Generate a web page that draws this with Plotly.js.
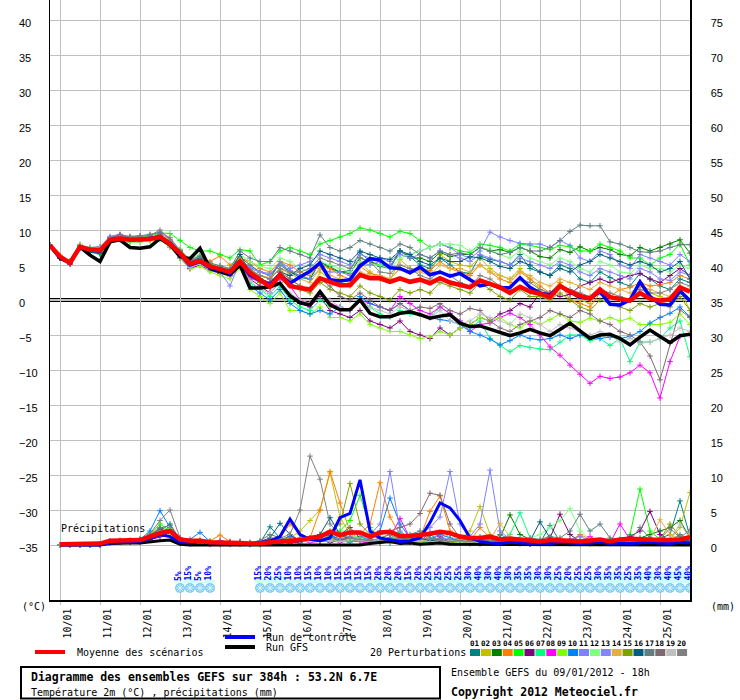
<!DOCTYPE html>
<html><head><meta charset="utf-8">
<script src="https://cdn.plot.ly/plotly-3.0.1.min.js"></script>
<style>html,body{margin:0;padding:0;background:#fff}#chart{width:740px;height:700px}</style>
</head><body><div id="chart"></div>
<script>
// ---------- time steps (6h, from 09/01/2012 18h, 384h) ----------
const startUTC = Date.UTC(2012, 0, 9, 18);
const stepMs = 6 * 3600 * 1000;
const nSteps = 65;
const times = Array.from({length: nSteps}, (_, i) => startUTC + i * stepMs);
const precipTimes = times.slice(1);
const dayTicks = times.filter(t => new Date(t).getUTCHours() === 0);

// ---------- tick labels ----------
const tempTicks = [-35,-30,-25,-20,-15,-10,-5,0,5,10,15,20,25,30,35,40];
const mmTicks = [0,5,10,15,20,25,30,35,40,45,50,55,60,65,70,75];

// ---------- members ----------
const memberNames = ["01","02","03","04","05","06","07","08","09","10","11","12","13","14","15","16","17","18","19","20"];
const memberColors = ["#008080","#c0c000","#008000","#ff8000","#00ff00","#800080","#00ff80","#ff00ff","#80ff00","#0080ff",
                      "#8080ff","#80ff80","#8484ff","#e0b040","#80a000","#005f80","#5f7f80","#806870","#c0c0c0","#808080"];

// ---------- temperature 2m (°C) ----------
const tempMean = [7.8,6.2,5.3,7.6,7.2,7.1,8.6,8.8,8.6,8.6,8.7,9.0,8.0, 6.7,5.2,5.6,4.8,4.4,4.0,5.5,3.9,
  2.9,1.9,3.6,2.0, 1.7,1.5,3.1,2.6, 2.1,2.1,3.6,3.1, 3.1,2.6,3.1,2.6, 2.9,2.4,3.1,2.5, 2.1,1.8,2.8,2.3,
  1.8,1.0,1.9,1.2, 0.9,0.4,2.0,1.2, 0.6,0.2,1.5,0.4, 0.1,-0.1,1.0,0.2, -0.1,0.1,1.8,1.2];
const tempControl = [7.8,6.1,5.3,7.6,7.1,7.0,8.6,8.8,8.6,8.6,8.8,9.0,8.1, 6.6,5.0,5.5,4.6,4.3,3.8,5.5,3.6,
  2.8,2.2,3.6,2.4, 3.3,4.1,5.3,2.9, 2.7,2.9,4.9,5.9, 5.7,4.6,4.5,3.9, 4.7,3.6,4.0,3.4, 3.8,2.9,2.0,2.3,
  1.7,1.8,3.2,1.8, 1.0,0.7,2.0,1.2, 0.4,0.2,1.2,-0.6, -0.7,0.0,2.6,0.5, -0.6,-0.7,1.3,-0.1];
const tempGFS = [7.8,6.0,5.3,7.6,6.4,5.5,8.3,8.6,7.5,7.4,7.6,8.8,7.9, 6.2,5.9,7.4,4.5,4.0,3.6,5.0,1.7,
  1.7,1.9,2.4,0.6, -0.4,-0.7,1.2,-0.7, -1.4,-1.4,0.0,-1.9, -2.4,-2.4,-1.9,-1.7, -2.1,-2.6,-2.3,-2.1,
  -3.3,-3.8,-3.7,-4.2, -4.7,-5.1,-4.7,-4.2, -4.7,-5.1,-4.2,-3.3, -4.4,-5.5,-5.0,-4.9, -5.5,-6.4,-5.3,-4.3, -5.2,-6.1,-5.1,-4.9];

const tempP01 = [7.8,6.0,5.4,7.9,7.0,6.8,8.5,9.0,8.5,8.5,8.8,9.1,7.8, 6.5,5.0,5.4,4.5,4.2,3.8,5.8,4.2,
  3.5,3.0,5.5,4.0, 3.2,3.0,5.5,4.8, 4.0,4.2,6.8,5.5, 4.8,4.5,7.0,6.2, 5.0,4.5,6.0,5.0, 4.0,3.8,6.3,5.8,
  5.5,5.0,6.5,4.5, 4.0,3.5,5.0,4.5, 3.0,2.5,4.0,3.2, 2.5,2.0,3.8,3.0, 2.0,1.5,3.0,2.5];
const tempP02 = [7.8,6.3,5.2,7.5,7.4,7.4,8.9,9.1,8.7,8.4,8.6,8.8,8.3, 6.8,5.3,5.8,5.0,4.6,4.2,6.0,4.5,
  3.5,3.0,4.5,3.0, 2.0,1.5,4.0,3.0, 2.5,2.0,5.5,4.0, 3.0,2.8,5.8,4.5, 4.2,4.0,6.5,5.5, 5.0,4.8,6.0,4.5,
  3.5,3.0,4.5,3.0, 1.5,1.0,2.5,1.0, 0.0,-0.5,1.5,0.5, 0.5,0.0,2.0,1.0, 0.5,0.0,1.5,-1.5];
const tempP03 = [7.8,6.1,5.6,7.7,7.3,7.2,8.7,9.2,8.9,8.8,8.9,9.3,8.4, 7.0,5.6,6.0,5.2,4.8,4.3,6.2,5.0,
  4.0,3.5,5.0,4.0, 3.5,3.0,5.5,4.5, 4.0,3.8,6.0,5.5, 5.0,4.8,7.0,6.0, 6.0,5.5,6.8,6.2, 6.5,6.5,7.5,7.0,
  7.2,6.8,7.5,7.0, 6.2,6.0,7.2,6.8, 7.6,7.0,7.5,7.2, 6.5,6.3,7.5,7.0, 7.5,8.0,8.6,6.7];
const tempP04 = [7.8,6.4,5.3,7.6,7.1,7.0,8.4,8.7,8.5,8.7,8.5,8.7,7.5, 7.2,5.5,6.2,5.5,6.3,5.0,6.0,5.5,
  4.5,4.0,5.5,5.0, 4.0,3.5,5.0,4.5, 3.5,3.0,4.8,3.8, 3.5,3.0,4.5,4.0, 4.5,4.2,5.5,4.5, 4.0,3.5,5.0,4.0,
  3.0,2.5,4.0,3.0, 2.0,1.0,2.5,0.0, -0.5,-1.0,1.0,0.5, 1.5,1.8,2.5,2.0, 2.2,2.5,3.5,3.0];
const tempP05 = [7.8,6.2,5.5,7.8,7.5,7.6,8.8,9.0,8.8,9.0,9.1,9.6,9.5, 8.5,7.5,7.0,7.0,6.5,6.0,7.2,7.0,
  5.0,5.5,7.0,7.5, 7.0,6.5,8.0,8.5, 9.0,9.5,10.3,10.0, 9.5,9.0,9.8,9.5, 8.5,7.5,8.0,7.5, 7.0,6.8,8.0,7.8,
  7.5,7.0,8.0,7.8, 7.5,7.2,7.8,7.6, 7.0,7.0,8.0,7.5, 7.0,6.0,6.0,5.0, 6.0,6.5,8.0,5.0];
const tempP06 = [7.8,6.0,5.1,7.4,7.0,6.9,8.5,8.8,8.3,8.5,8.7,9.0,8.1, 6.0,4.5,5.0,4.2,3.8,3.5,5.0,3.0,
  2.0,1.0,2.5,0.5, -0.5,-1.0,0.5,-1.5, -2.0,-2.5,-1.5,-3.0, -3.5,-4.0,-3.0,-4.5, -5.0,-5.5,-4.0,-5.0,
  -4.0,-3.5,-2.5,-3.0, -2.0,-1.5,-0.5,-1.0, 1.0,1.0,0.5,0.8, 2.0,2.5,3.0,2.5, 3.0,3.5,3.8,3.0, 2.5,3.5,4.5,3.5];
const tempP07 = [7.8,6.2,5.4,7.7,7.3,6.6,8.3,8.6,8.6,8.9,8.8,9.1,8.0, 6.3,4.8,5.5,4.5,4.0,3.5,5.2,2.5,
  1.5,0.5,2.0,0.0, -1.0,-1.5,0.0,-1.0, -1.0,-1.5,0.0,-1.0, -2.0,-2.5,-1.5,-2.0, -2.0,-2.5,-1.0,-2.0,
  -3.0,-4.0,-3.0,-5.5, -6.5,-7.4,-6.5,-6.8, -7.0,-7.1,-6.0,-5.0, -5.0,-5.8,-5.5,-6.5, -5.5,-8.8,-6.0,-6.0, -5.5,-4.0,-3.0,-8.1];
const tempP08 = [7.8,6.1,5.2,7.5,7.2,7.3,8.9,9.3,8.8,8.6,9.0,9.2,8.4, 6.1,4.6,5.2,4.3,3.9,3.4,5.0,3.2,
  2.5,1.8,3.0,2.0, 0.0,-0.5,1.0,-0.5, -1.0,-1.5,0.0,-0.5, -1.0,-1.5,0.5,-0.5, -1.5,-2.0,-1.0,-1.9,
  -3.0,-4.5,-3.5,-3.3, -2.5,-1.9,-2.5,-3.5, -5.0,-6.7,-7.9,-9.3, -10.6,-11.9,-10.9,-11.2, -11.0,-10.4,-9.3,-10.4, -14.0,-8.8,-5.2,-5.0];
const tempP09 = [7.8,6.3,5.4,7.9,7.1,6.6,8.2,8.7,8.2,8.3,8.4,8.6,7.6, 6.0,4.4,4.8,4.0,3.5,3.0,4.5,1.5,
  0.5,-0.5,1.0,-1.5, -1.5,-2.0,-1.0,-2.5, -2.5,-3.0,-2.0,-3.5, -4.0,-4.5,-4.5,-5.0, -5.5,-5.3,-4.5,-5.0,
  -4.0,-3.5,-2.5,-3.0, -2.5,-3.5,-4.0,-3.0, -3.5,-2.8,-2.0,-3.0, -3.2,-2.6,-3.0,-2.5, -3.0,-2.6,-3.5,-3.5, -3.5,-3.2,-2.0,-3.5];
const tempP10 = [7.8,6.0,5.3,7.6,6.9,6.8,8.6,8.9,8.7,8.6,8.7,9.1,8.2, 6.2,4.8,5.4,4.6,4.2,3.7,5.0,2.0,
  1.0,0.0,1.5,-0.5, -1.5,-2.0,-1.5,-2.0, -1.0,-1.5,0.5,-0.5, -1.0,-1.5,-0.5,-1.5, -2.0,-2.5,-2.8,-3.0,
  -3.5,-4.5,-5.0,-5.6, -6.4,-5.8,-5.0,-5.5, -5.7,-5.5,-5.0,-5.5, -5.0,-5.2,-5.5,-5.3, -5.5,-5.2,-4.5,-3.3, -2.5,-1.9,-1.0,-2.4];
const tempP11 = [7.8,6.2,5.5,7.7,7.5,7.6,9.1,9.4,9.0,9.1,9.4,9.6,8.6, 7.0,5.5,6.2,5.0,4.0,2.0,5.5,4.5,
  4.0,3.5,5.5,4.5, 5.0,5.5,6.5,6.0, 5.5,5.0,6.5,6.0, 6.0,5.5,6.8,6.5, 7.0,7.5,8.0,7.5, 6.5,6.0,7.0,9.7,
  9.0,8.5,8.1,8.0, 8.0,7.5,8.5,7.8, 6.0,5.5,7.0,6.5, 5.0,4.5,6.5,6.0, 5.5,5.0,6.5,5.5];
const tempP12 = [7.8,6.4,5.6,8.0,7.4,7.0,8.4,8.6,8.3,8.2,8.5,8.9,8.0, 7.3,5.8,6.5,5.2,4.8,4.4,6.5,5.5,
  4.8,4.5,6.0,5.5, 4.5,4.0,5.5,5.0, 4.5,4.0,5.5,5.0, 5.0,4.5,6.0,6.5, 7.0,7.5,8.0,8.0, 7.8,7.0,7.5,7.2,
  6.5,6.0,7.0,6.0, 5.5,5.0,6.0,5.5, 4.5,4.0,5.5,5.0, 4.0,3.8,5.0,4.5, 4.5,4.0,5.0,4.5];
const tempP13 = [7.8,6.1,5.3,7.6,7.2,7.4,8.8,9.0,8.6,8.7,8.8,9.0,7.7, 6.6,5.2,5.6,4.8,4.4,3.8,5.5,4.8,
  4.0,3.8,5.0,4.2, 3.5,3.0,4.5,4.0, 4.0,3.5,5.0,5.0, 5.5,5.0,6.5,6.0, 6.5,6.0,7.0,6.5, 6.0,5.5,6.5,6.0,
  5.5,5.0,6.0,5.5, 5.0,4.5,5.5,5.0, 4.0,3.5,4.5,4.0, 3.5,3.0,4.5,4.0, 3.0,2.8,4.0,3.5];
const tempP14 = [7.8,6.2,5.2,7.5,7.3,7.2,8.6,8.9,8.8,8.6,8.5,9.3,8.5, 6.8,5.4,5.8,4.9,4.5,4.0,5.8,4.0,
  3.5,3.2,4.5,3.8, 3.0,2.5,4.5,3.5, 3.0,2.5,4.0,3.5, 3.5,3.0,4.5,4.0, 4.0,3.5,5.0,4.5, 4.5,4.0,5.0,4.0,
  3.5,3.0,4.0,3.5, 2.5,2.0,3.0,2.5, 2.0,1.5,2.5,2.0, 1.5,1.0,2.0,1.5, 1.0,0.5,2.0,1.5];
const tempP15 = [7.8,6.3,5.4,7.8,7.0,6.7,8.3,8.7,8.5,8.7,8.8,8.9,7.8, 6.4,5.0,5.3,4.4,4.0,3.6,5.2,3.5,
  2.5,2.0,3.5,2.5, 1.5,1.0,2.5,1.5, 1.0,0.5,2.0,1.0, 0.5,0.0,1.5,1.0, 1.5,1.0,2.5,2.0, 1.5,1.0,2.5,1.5,
  0.5,0.0,1.5,0.5, 0.5,0.0,1.0,0.0, -1.0,-1.5,0.0,-0.5, -1.0,-1.5,-0.5,-1.0, -0.5,-1.0,0.5,-1.5];
const tempP16 = [7.8,6.0,5.3,7.4,6.8,6.6,8.4,8.9,8.6,8.6,8.8,9.0,7.9, 6.9,5.5,5.9,5.0,4.6,4.2,6.5,4.0,
  3.0,2.5,4.0,3.5, 4.5,5.0,7.0,6.5, 6.0,5.5,7.0,6.5, 6.0,5.8,7.0,6.5, 5.5,5.0,6.0,5.5, 5.5,6.2,6.0,5.5,
  4.8,4.5,5.5,5.0, 4.0,3.5,4.5,4.0, 5.0,5.5,6.5,6.0, 5.5,5.0,5.5,5.0, 4.0,4.5,5.5,3.0];
const tempP17 = [7.8,6.2,5.5,7.7,7.3,7.1,8.7,9.2,9.1,9.2,9.3,9.7,8.9, 7.1,5.7,6.3,5.3,4.9,4.5,7.0,6.0,
  5.5,5.5,7.5,7.0, 6.5,6.0,9.3,7.5, 7.0,7.5,8.5,8.0, 7.5,7.0,8.0,7.5, 6.5,6.0,7.0,6.5, 6.7,6.5,7.5,7.0,
  6.5,6.8,7.5,7.0, 7.0,7.5,8.5,9.8, 10.7,10.6,10.6,8.3, 8.0,7.5,6.9,6.8, 7.0,7.5,7.9,7.9];
const tempP18 = [7.8,6.1,5.2,7.6,7.2,7.2,8.9,9.3,8.9,8.7,8.9,9.4,8.2, 6.5,5.0,5.6,4.6,4.1,3.7,5.4,3.8,
  3.0,2.5,4.0,3.0, 2.0,1.5,3.0,2.0, 0.5,0.0,1.0,0.0, -1.0,-1.5,-0.5,-1.5, -1.0,-1.2,-0.5,-1.5,
  -2.0,-1.2,-1.5,-3.0, -4.0,-4.5,-3.5,-3.0, -2.5,-1.5,-2.0,-2.5, -1.5,-2.0,-3.0,-3.5, -4.5,-5.0,-6.0,-8.0, -11.4,-6.2,-1.4,-2.5];
const tempP19 = [7.8,6.3,5.4,7.9,7.4,7.3,8.6,8.8,8.4,8.3,8.6,8.8,7.9, 6.2,4.7,5.1,4.3,3.9,3.4,4.8,2.8,
  1.5,1.0,2.5,1.0, 0.0,-0.5,1.0,0.0, -1.0,-1.5,0.0,-1.0, -1.5,-2.0,-1.0,-1.5, -2.0,-2.5,-1.5,-3.0,
  -3.5,-3.0,-2.0,-2.5, -3.0,-3.5,-2.0,-2.5, -3.5,-4.5,-3.5,-4.0, -4.5,-5.0,-4.5,-5.0, -6.0,-5.5,-6.2,-6.0, -5.5,-5.0,-4.0,-4.5];
const tempP20 = [7.8,6.2,5.3,7.6,7.2,7.0,8.7,9.2,9.0,9.1,9.2,10.0,8.6, 6.7,5.2,5.7,4.7,4.3,3.9,5.6,4.3,
  3.5,3.0,4.5,4.0, 4.0,4.5,6.0,5.5, 5.0,4.5,6.0,5.5, 4.0,3.8,5.0,4.5, 3.5,3.0,4.0,3.5, 2.5,2.0,3.5,3.0,
  2.0,1.5,3.0,2.5, 1.5,1.0,2.0,1.5, 1.0,0.5,1.5,1.0, 0.5,0.0,1.5,1.0, 1.0,1.5,2.5,2.0];

// ---------- precipitation (mm / 6h), from 10/01 00h ----------
const precipMean = [0.1,0.1,0.1,0.1,0.2,0.6,0.6,0.6, 0.7,1.2,1.7,2.0,0.8,0.6,0.6,0.4, 0.4,0.3,0.3,0.2,0.2,0.4,0.5,0.6,
  0.7,1.0,1.2,1.9,1.4,1.8,1.8,1.2, 1.8,1.9,1.3,1.3,1.4,1.6,1.9,1.7, 1.2,1.0,1.0,1.2,0.8,0.9,0.8,0.6,
  0.5,0.7,0.7,0.6,0.5,0.7,0.8,0.5, 0.8,0.9,0.8,0.7,0.7,0.7,0.8,1.1];
const precipControl = [0,0,0,0,0,0.3,0.4,0.5, 0.5,0.9,1.5,1.2,0.4,0.3,0.6,0.3, 0.3,0.2,0.3,0.1,0.3,0.6,1.2,3.7,
  1.5,0.8,0.6,1.0,3.9,4.5,9.3,2.0, 1.0,0.8,0.5,0.6,1.0,3.2,6.0,5.3, 3.5,1.0,0.5,0.3,0.2,0.4,0.3,0.2,
  0.3,0.2,0.4,0.3,0.2,0.3,0.4,0.2, 0.3,0.2,0.3,0.4,0.3,0.2,0.4,0.3];
const precipGFS = [0,0,0,0,0,0.2,0.3,0.3, 0.3,0.5,0.6,0.7,0.1,0,0,0, 0,0,0,0,0,0,0,0,
  0,0,0,0,0,0,0,0.2, 0.3,0.5,0.2,0.3,0.1,0.2,0.3,0.1, 0.1,0,0.1,0,0,0.1,0,0,
  0,0.1,0,0,0.1,0,0,0, 0,0,0,0.1,0,0,0,0];
const precipP01 = [0,0,0,0,0.1,0.5,0.4,0.6, 0.5,1.2,2.0,3.0,0.8,0.3,0.5,0.2, 0.4,0.2,0.5,0.1,0.3,2.6,1.0,0.5,
  0.3,0.8,0.5,1.5,0.6,0.4,1.2,0.5, 0.8,0.3,1.0,0.5,0.2,1.5,0.6,0.3, 0.5,0.2,0.8,1.2,0.4,0.3,0.6,0.2,
  0.3,2.8,0.5,0.2,0.6,0.3,0.4,0.8, 0.3,0.5,0.2,0.4,1.0,1.5,6.3,1.2];
const precipP02 = [0,0,0,0,0,0.4,0.6,0.5, 0.6,0.8,1.5,2.2,0.5,0.6,0.3,0.2, 0.2,0.3,0.1,0.2,0.2,0.5,0.8,1.0,
  2.0,3.5,5.0,10.3,4.0,1.5,0.8,0.6, 0.5,1.0,0.8,0.4,0.6,0.3,1.2,0.5, 0.8,2.0,5.5,1.5,0.5,0.3,0.2,0.4,
  0.2,0.3,0.5,0.4,0.2,0.6,0.3,0.2, 0.4,0.2,0.5,0.3,1.0,0.8,2.5,7.5];
const precipP03 = [0,0,0,0,0,0.3,0.5,0.4, 0.5,1.0,1.8,2.5,0.6,0.4,0.6,0.3, 0.3,0.4,0.2,0.3,0.1,0.4,0.6,0.8,
  0.5,1.0,0.8,0.5,1.5,2.5,1.0,0.6, 0.4,0.8,0.6,1.2,0.5,0.8,0.4,0.6, 0.3,0.5,0.8,0.4,1.0,4.3,1.5,0.8,
  0.5,0.3,0.4,0.6,0.3,0.2,0.5,0.4, 0.6,0.3,1.0,1.5,2.0,2.5,3.5,1.0];
const precipP04 = [0,0,0,0,0,0.5,0.4,0.6, 0.7,1.5,2.5,1.8,1.0,0.5,0.8,0.6, 1.4,0.5,0.3,0.2,0.4,0.6,1.0,3.0,
  1.5,1.0,5.0,10.5,6.0,2.0,1.5,3.0, 8.9,4.0,1.5,0.8,1.0,4.8,7.0,2.0, 1.0,0.6,2.5,1.0,0.5,0.8,0.4,0.3,
  0.2,0.5,0.3,0.6,1.5,0.8,0.4,0.3, 0.5,1.0,0.6,0.4,0.3,0.5,0.8,1.5];
const precipP05 = [0,0,0,0,0,0.4,0.7,0.6, 0.8,1.5,3.0,2.0,0.5,0.3,0.4,0.3, 0.2,0.3,0.4,0.2,0.3,0.5,0.6,0.4,
  0.8,1.0,1.2,0.6,2.0,3.5,7.1,2.5, 1.0,1.5,0.5,0.8,1.2,0.4,0.6,0.8, 0.5,0.3,0.6,0.4,0.2,0.3,0.5,0.4,
  0.3,0.2,0.4,0.3,0.6,0.2,0.4,0.5, 0.3,1.5,8.0,2.0,0.8,0.5,0.6,1.0];
const precipP06 = [0,0,0,0,0,0.3,0.4,0.5, 0.4,0.8,1.2,1.5,0.4,0.2,0.3,0.1, 0.2,0.1,0.2,0.1,0.2,0.3,0.4,0.3,
  0.5,0.6,0.8,0.4,0.6,1.0,0.8,0.5, 0.3,0.6,1.0,0.4,0.3,0.6,0.5,0.8, 0.3,0.5,0.2,0.4,0.3,0.6,0.2,0.1,
  0.3,1.0,4.4,1.5,0.5,0.3,0.2,0.4, 0.6,1.2,2.0,4.8,1.5,0.5,0.3,0.8];
const precipP07 = [0,0,0,0,0,0.4,0.5,0.6, 0.5,1.0,2.2,1.6,0.6,0.4,0.3,0.2, 0.3,0.2,0.2,0.1,0.3,0.5,0.4,0.8,
  1.0,0.5,0.8,1.2,0.5,1.8,0.8,0.4, 0.6,0.4,1.8,0.6,0.5,0.3,0.8,1.6, 0.5,0.3,0.2,0.4,0.8,1.5,4.6,1.0,
  0.4,0.2,0.3,0.5,0.2,0.4,0.3,0.2, 0.3,0.5,0.2,0.3,0.6,0.4,0.2,0.3];
const precipP08 = [0,0,0,0,0,0.3,0.5,0.4, 0.6,0.9,1.8,1.4,0.3,0.2,0.4,0.2, 0.1,0.2,0.3,0.2,0.1,0.2,0.3,0.4,
  0.6,0.4,0.5,0.8,0.4,0.6,0.5,0.3, 0.8,1.0,3.8,1.0,0.5,1.8,1.2,0.6, 0.4,0.6,1.0,0.5,0.3,0.6,0.4,0.8,
  0.5,0.3,0.8,0.4,0.3,1.2,0.5,0.3, 3.0,0.8,0.4,0.6,0.3,0.5,0.4,0.6];
const precipP09 = [0,0,0,0,0,0.4,0.6,0.5, 0.5,1.2,2.0,1.5,0.5,0.3,0.4,0.3, 0.3,0.2,0.3,0.2,0.2,0.4,0.5,0.6,
  0.8,1.0,0.6,0.5,1.2,0.8,0.5,0.6, 0.4,0.6,0.8,0.5,0.3,0.6,0.4,0.5, 0.3,0.2,0.5,0.3,0.4,0.2,0.6,0.3,
  0.2,0.4,0.3,0.5,0.2,0.3,0.4,0.2, 0.3,0.2,0.5,0.4,0.3,0.6,0.4,0.3];
const precipP10 = [0,0,0,0,0,0.5,0.6,0.7, 0.8,2.0,4.9,2.5,1.0,0.8,1.8,0.5, 0.6,0.4,0.5,0.2,0.3,0.6,0.8,1.2,
  0.8,0.6,1.0,1.5,0.8,0.6,1.0,0.8, 2.0,6.7,3.0,1.0,0.6,0.8,1.5,1.0, 0.6,0.5,0.4,0.8,0.3,0.5,0.6,0.4,
  0.3,0.5,0.4,0.6,0.3,0.4,0.5,0.3, 0.4,0.6,0.3,0.5,0.4,0.6,0.8,0.5];
const precipP11 = [0,0,0,0,0,0.4,0.5,0.5, 0.7,1.3,2.2,1.8,0.6,0.5,0.6,0.4, 0.3,0.5,0.4,0.2,0.3,0.4,0.5,0.6,
  0.5,0.8,1.0,0.6,0.8,1.2,0.8,1.5, 3.0,10.5,2.0,0.8,0.6,0.5,1.0,0.8, 0.6,1.2,3.0,10.7,2.0,0.8,0.5,0.6,
  0.4,0.5,0.3,0.8,1.2,0.6,0.4,0.5, 0.3,0.5,0.6,0.4,0.8,0.5,0.6,0.4];
const precipP12 = [0,0,0,0,0,0.3,0.5,0.6, 0.5,1.0,1.6,2.4,0.5,0.4,0.5,0.3, 0.2,0.3,0.4,0.2,0.3,0.5,0.4,0.6,
  0.5,0.7,0.6,0.8,0.5,0.6,1.0,0.6, 0.5,0.8,0.6,0.4,0.5,0.8,0.6,0.5, 0.4,0.6,0.3,0.5,0.4,0.6,0.8,1.0,
  1.5,2.5,3.5,5.2,2.0,0.8,0.5,0.4, 0.3,0.5,0.8,0.6,0.4,0.3,0.5,0.6];
const precipP13 = [0,0,0,0,0,0.4,0.6,0.5, 0.6,1.1,1.9,1.6,0.5,0.4,0.3,0.2, 0.3,0.2,0.3,0.2,0.4,0.6,0.5,0.8,
  1.0,0.8,0.6,1.0,0.8,2.0,1.5,0.8, 0.6,1.0,0.8,1.2,1.5,2.5,4.0,10.5, 3.0,1.0,0.6,0.8,0.5,0.4,0.6,0.3,
  0.5,0.4,0.6,0.8,0.5,0.4,0.3,0.5, 0.4,0.6,0.5,0.3,0.5,0.4,0.6,0.5];
const precipP14 = [0,0,0,0,0,0.5,0.5,0.6, 0.6,1.2,2.0,1.8,0.6,0.4,0.5,0.3, 0.4,0.3,0.2,0.3,0.2,0.4,0.6,0.5,
  0.8,0.6,0.8,1.0,0.6,0.8,0.5,0.8, 0.6,0.5,0.8,0.6,0.5,0.8,0.6,0.5, 0.8,0.6,0.5,0.8,3.1,1.2,0.6,0.4,
  0.3,0.5,0.4,0.3,0.6,0.5,0.3,0.4, 0.5,0.6,0.4,0.8,3.6,1.5,0.8,1.2];
const precipP15 = [0,0,0,0,0,0.4,0.5,0.5, 0.5,1.0,1.8,2.0,0.5,0.3,0.4,0.2, 0.3,0.2,0.3,0.2,0.3,0.4,0.5,0.6,
  0.8,1.0,1.5,2.0,3.0,8.8,3.0,1.5, 0.8,1.0,0.6,0.5,0.8,0.6,0.5,0.4, 0.5,0.3,0.6,0.4,0.3,0.5,0.4,0.3,
  0.4,0.3,0.5,0.6,0.3,0.4,0.5,0.3, 0.4,0.3,0.6,0.5,0.8,3.0,1.2,0.6];
const precipP16 = [0,0,0,0,0,0.5,0.6,0.6, 0.7,1.4,2.3,1.6,0.5,0.5,0.6,0.3, 0.4,0.3,0.4,0.2,0.5,1.0,3.1,1.5,
  0.6,0.8,1.5,3.9,1.5,0.8,0.6,0.5, 0.8,0.6,0.5,0.8,1.0,0.6,0.8,0.5, 0.6,0.4,0.5,0.6,0.8,0.5,0.4,0.6,
  3.3,1.0,0.5,0.4,0.6,0.3,0.5,0.4, 0.6,0.5,0.8,0.6,0.4,0.5,0.8,0.6];
const precipP17 = [0,0,0,0,0,0.4,0.6,0.5, 0.6,1.3,2.4,2.8,0.7,0.5,0.6,0.4, 0.5,0.4,0.3,0.4,0.6,1.5,1.0,0.6,
  0.8,1.0,0.8,1.2,0.6,0.8,0.5,0.6, 0.5,0.8,0.6,1.5,2.0,1.0,0.8,0.6, 1.0,0.8,1.2,0.6,1.5,0.8,0.6,1.0,
  0.8,1.2,1.0,2.0,4.4,2.0,3.0,1.0, 0.8,0.6,2.5,1.0,0.8,0.6,1.5,0.8];
const precipP18 = [0,0,0,0,0,0.3,0.5,0.4, 0.5,1.0,1.6,1.8,0.4,0.3,0.4,0.2, 0.3,0.2,0.3,0.2,0.2,0.4,0.3,0.5,
  0.6,0.8,0.5,0.6,0.8,1.0,0.6,0.8, 1.5,2.0,2.5,3.0,4.5,7.4,7.1,3.0, 1.0,0.6,0.5,0.8,0.4,0.6,0.5,0.3,
  0.4,0.6,0.3,0.5,0.4,0.3,0.5,0.6, 0.4,0.3,0.5,0.8,0.6,0.4,0.5,0.3];
const precipP19 = [0,0,0,0,0,0.4,0.4,0.5, 0.5,1.0,1.7,1.5,0.5,0.4,0.3,0.2, 0.3,0.2,0.2,0.3,0.2,0.3,0.4,0.5,
  0.6,0.5,0.8,0.6,0.5,0.8,0.6,0.5, 0.8,0.6,0.5,0.8,0.6,0.5,0.4,0.6, 0.5,0.4,0.6,0.5,0.3,0.4,0.6,0.5,
  0.4,0.3,0.5,0.4,0.6,0.5,0.4,0.3, 0.5,0.4,0.3,0.6,0.5,0.8,3.0,1.0];
const precipP20 = [0,0,0,0,0,0.5,0.6,0.6, 0.8,1.6,3.5,5.0,1.0,0.6,0.5,0.4, 0.5,0.3,0.4,0.3,0.4,0.8,1.0,1.5,
  5.0,12.7,9.4,3.0,1.5,1.0,0.8,0.6, 1.0,1.5,0.8,0.6,1.0,0.8,0.6,0.5, 0.6,0.5,0.8,0.6,0.4,0.5,0.6,0.4,
  0.5,0.4,0.6,0.5,0.3,0.6,0.4,0.5, 0.6,0.5,0.4,0.6,0.8,2.4,1.0,2.2];

// ---------- snow probability (%) per 6h step, null = none ----------
const snowProb = [null,null,null,null,null,null,null,null,null,null,null,null,null,
  5,15,5,10, null,null,null,null,
  15,20,25,10,10,15,10,10,15,15,15,15,20,20,20,15,20,25,25,25,25,30,40,30,40,30,35,35,30,30,25,20,
  25,25,30,35,35,25,35,40,30,40,45,40];

// ---------- geometry / style ----------
const W = 740, H = 700;
const PLOT_L = 50, PLOT_R = 690, PLOT_B = 600;
const PX_PER_DEG = 7;
const T_HALF = 300 / PX_PER_DEG;   // range half-height in °C (0 line at pixel 300)
const MM_OFFSET = 35;              // 0 mm sits on -35 °C
const px2y = py => (PLOT_B - py) / PLOT_B;    // paper y from pixel
const px2x = px => px / W;                    // paper x from pixel
const pyToT = py => (300 - py) / PX_PER_DEG;  // data y from pixel
const MONO = 'DejaVu Sans Mono, Liberation Mono, monospace';

const memberTemps = [tempP01,tempP02,tempP03,tempP04,tempP05,tempP06,tempP07,tempP08,tempP09,tempP10,
                     tempP11,tempP12,tempP13,tempP14,tempP15,tempP16,tempP17,tempP18,tempP19,tempP20];
const memberPrecips = [precipP01,precipP02,precipP03,precipP04,precipP05,precipP06,precipP07,precipP08,precipP09,precipP10,
                       precipP11,precipP12,precipP13,precipP14,precipP15,precipP16,precipP17,precipP18,precipP19,precipP20];

const traces = [];
// snow probability bars
const snowX = [], snowV = [];
snowProb.forEach((p, i) => { if (p !== null) { snowX.push(times[i]); snowV.push(p); } });
traces.push({type:'bar', x:snowX, y:snowV.map(p => p * 0.3 / PX_PER_DEG), base:pyToT(583), width:stepMs,
  marker:{color:'#ccffff', line:{width:0}}, xaxis:'x', yaxis:'y', hoverinfo:'skip', showlegend:false});

function memberTrace(x, y, color, axis) {
  return {type:'scatter', mode:'lines+markers', x, y, xaxis:'x', yaxis:axis,
    line:{color, width:1}, marker:{symbol:'cross-thin', size:4, color, line:{color, width:1}},
    hoverinfo:'skip', showlegend:false};
}
memberTemps.forEach((arr, k) => traces.push(memberTrace(times, arr, memberColors[k], 'y')));
traces.push({type:'scatter', mode:'lines', x:times, y:tempGFS, yaxis:'y', line:{color:'#000', width:3.5}, showlegend:false});
traces.push({type:'scatter', mode:'lines', x:times, y:tempControl, yaxis:'y', line:{color:'#0000ff', width:3.5}, showlegend:false});
traces.push({type:'scatter', mode:'lines', x:times, y:tempMean, yaxis:'y', line:{color:'#ff0000', width:4.5}, showlegend:false});

memberPrecips.forEach((arr, k) => traces.push(memberTrace(precipTimes, arr, memberColors[k], 'y2')));
traces.push({type:'scatter', mode:'lines', x:precipTimes, y:precipGFS, yaxis:'y2', line:{color:'#000', width:3}, showlegend:false});
traces.push({type:'scatter', mode:'lines', x:precipTimes, y:precipControl, yaxis:'y2', line:{color:'#0000ff', width:3}, showlegend:false});
traces.push({type:'scatter', mode:'lines', x:precipTimes, y:precipMean, yaxis:'y2', line:{color:'#ff0000', width:4.5}, showlegend:false});

// snow icons row
traces.push({type:'scatter', mode:'markers', x:snowX, y:snowX.map(() => pyToT(588)), yaxis:'y3',
  marker:{symbol:'circle', size:10, color:'#7ccbf2', line:{width:0}}, hoverinfo:'skip', showlegend:false});
traces.push({type:'scatter', mode:'markers', x:snowX, y:snowX.map(() => pyToT(588)), yaxis:'y3',
  marker:{symbol:'asterisk-open', size:7, color:'#d6f3ff', line:{color:'#d6f3ff', width:1}}, hoverinfo:'skip', showlegend:false});

// ---------- shapes ----------
const shapes = [];
const hline = (y, color, width) => ({type:'line', xref:'paper', yref:'y', x0:px2x(PLOT_L), x1:px2x(PLOT_R), y0:y, y1:y,
  line:{color, width}, layer:'between'});
shapes.push(hline(0, '#ffffff', 2));
shapes.push(hline(0.2, '#000000', 1.2));
shapes.push(hline(-0.2, '#000000', 1.2));

const legendLines = [
  {x0:35, x1:65, py:652, color:'#ff0000', text:'Moyenne des scénarios', tx:75},
  {x0:225, x1:255, py:637, color:'#0000ff', text:'Run de contrôle', tx:264},
  {x0:225, x1:255, py:647, color:'#000000', text:'Run GFS', tx:264}
];
legendLines.forEach(l => shapes.push({type:'line', xref:'paper', yref:'paper', x0:px2x(l.x0), x1:px2x(l.x1),
  y0:px2y(l.py), y1:px2y(l.py), line:{color:l.color, width:4}}));

const SW_X0 = 470, SW_W = 10.9;
memberColors.forEach((c, k) => shapes.push({type:'rect', xref:'paper', yref:'paper',
  x0:px2x(SW_X0 + k*SW_W), x1:px2x(SW_X0 + k*SW_W + 10), y0:px2y(656), y1:px2y(649),
  fillcolor:c, line:{width:0}}));

shapes.push({type:'rect', xref:'paper', yref:'paper', x0:px2x(21), x1:px2x(440), y0:px2y(698.5), y1:px2y(667),
  line:{color:'#000', width:2}, fillcolor:'rgba(0,0,0,0)'});

// ---------- annotations ----------
const ann = [];
const txt = (px, py, text, opts = {}) => ann.push(Object.assign({xref:'paper', yref:'paper', x:px2x(px), y:px2y(py),
  text, showarrow:false, xanchor:'left', yanchor:'middle', font:{family:MONO, size:10, color:'#000'}}, opts));

txt(20, 606, '(°C)');
txt(709, 606, '(mm)');
txt(59, 528, 'Précipitations');
legendLines.forEach(l => txt(l.tx, l.py, l.text));
txt(368, 652, '20 Perturbations');
memberNames.forEach((n, k) => txt(SW_X0 + k*SW_W + 5, 643.5, n,
  {xanchor:'center', font:{family:MONO, size:7.5, color:'#000', weight:'bold'}}));
txt(29, 677, 'Diagramme des ensembles GEFS sur 384h : 53.2N 6.7E', {font:{family:MONO, size:11.5, color:'#000', weight:'bold'}});
txt(29, 692, 'Température 2m (°C) , précipitations (mm)');
txt(449, 672, 'Ensemble GEFS du 09/01/2012 - 18h');
txt(449, 692, 'Copyright 2012 Meteociel.fr', {font:{family:MONO, size:11.5, color:'#000', weight:'bold'}});

snowX.forEach((t, k) => ann.push({xref:'x', yref:'y', x:t, y:pyToT(582), text:snowV[k] + '%', textangle:-90,
  showarrow:false, xanchor:'center', yanchor:'bottom', xshift:-2, borderpad:0,
  font:{family:MONO, size:8, color:'#0000ff', weight:'bold'}}));

// ---------- layout ----------
const numFont = {family:'Liberation Sans, Arial, sans-serif', size:11, color:'#000'};
const layout = {
  width:W, height:H, margin:{l:0, r:0, t:0, b:H - PLOT_B, pad:0},
  paper_bgcolor:'#ffffff', plot_bgcolor:'#ffffff', showlegend:false, barmode:'overlay',
  font:numFont,
  xaxis:{type:'date', domain:[px2x(PLOT_L), px2x(PLOT_R)], range:[times[0], times[nSteps-1]],
    tickmode:'array', tickvals:dayTicks, tickformat:'%d/%m', tickangle:-90, ticklabelshift:8,
    ticks:'outside', ticklen:3, tickcolor:'#c0c0c0', showgrid:true, gridcolor:'#c0c0c0', gridwidth:1,
    minor:{showgrid:false, ticks:''},
    showline:true, linecolor:'#000', linewidth:1.5, zeroline:false, fixedrange:true,
    tickfont:{family:MONO, size:10, color:'#000'}},
  yaxis:{range:[-T_HALF, T_HALF], tickmode:'array', tickvals:tempTicks, showticklabels:false, ticks:'',
    showgrid:true, gridcolor:'#c0c0c0', gridwidth:1, showline:true, linecolor:'#000', linewidth:1.5, zeroline:false, fixedrange:true},
  yaxis2:{overlaying:'y', side:'right', anchor:'x', range:[-T_HALF + MM_OFFSET, T_HALF + MM_OFFSET],
    tickmode:'array', tickvals:mmTicks, showgrid:false, showline:true, linecolor:'#000', linewidth:1.5,
    ticks:'', ticklabelstandoff:17, ticklabelshift:3, zeroline:false, tickfont:numFont, fixedrange:true},
  yaxis3:{overlaying:'y', side:'right', anchor:'free', position:px2x(18), range:[-T_HALF, T_HALF],
    tickmode:'array', tickvals:tempTicks, showgrid:false, showline:false, ticks:'', ticklabelshift:3,
    zeroline:false, tickfont:numFont, fixedrange:true},
  shapes, annotations:ann
};

Plotly.newPlot('chart', traces, layout, {staticPlot:true, displayModeBar:false});
</script></body></html>
